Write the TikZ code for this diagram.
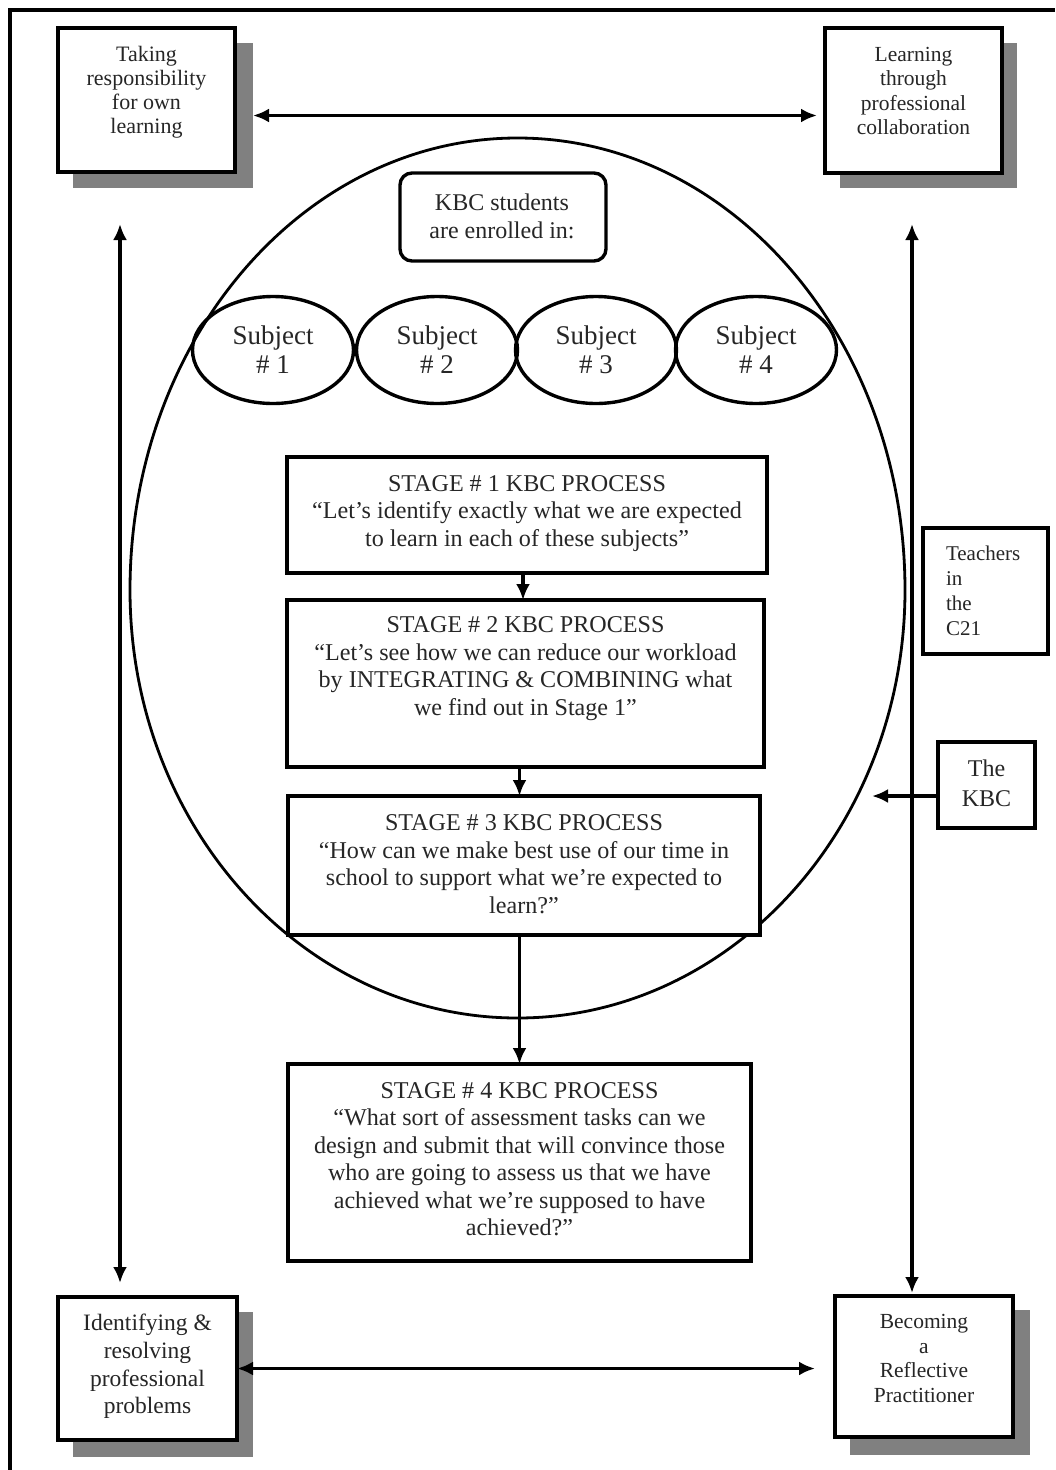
\documentclass[tikz,border=0pt]{standalone}
\usepackage{fontspec}
\setmainfont{Liberation Serif}
\usetikzlibrary{shapes.geometric,arrows.meta,calc}
\begin{document}
\begin{tikzpicture}[x=1pt,y=-1pt,
  line width=3.4pt,
  every node/.style={text=black!85},
  box/.style={draw=black, fill=white, inner sep=0pt, outer sep=0pt, rectangle},
  shadowbox/.style={fill=black!50, draw=none, inner sep=0pt, outer sep=0pt, rectangle},
  txt/.style={inner sep=0pt, outer sep=0pt, align=center},
  subj/.style={draw=black, ellipse, inner sep=0pt, outer sep=0pt, minimum width=161pt, minimum height=107pt},
  arr/.style={-{Latex[length=16pt,width=14pt]}},
  dbl/.style={{Latex[length=16pt,width=14pt]}-{Latex[length=16pt,width=14pt]}},
  fA/.style={font=\fontsize{22pt}{24pt}\selectfont},
  fB/.style={font=\fontsize{23.5pt}{27.6pt}\selectfont},
  fC/.style={font=\fontsize{21.5pt}{24.5pt}\selectfont},
  fG/.style={font=\fontsize{24.1pt}{27.5pt}\selectfont},
  fS/.style={font=\fontsize{27pt}{29pt}\selectfont},
  fK/.style={font=\fontsize{24pt}{28pt}\selectfont},
]
\useasboundingbox (0,0) rectangle (1055,1470);
\fill[white] (0,0) rectangle (1055,1470);

% outer frame
\draw (10,1470) -- (10,10) -- (1055,10);

% big oval (upper half slightly taller than lower half; y axis points down)
\coordinate (bigc) at (517.5,590);
\draw[line width=2.8pt] (130,590) arc[start angle=180, end angle=0, x radius=387.5, y radius=428]
  arc[start angle=0, end angle=-180, x radius=387.5, y radius=452] -- cycle;

% corner boxes with shadows
\node[shadowbox, minimum width=180pt, minimum height=145pt] (tls) at (163,115.5) {};
\node[box, minimum width=177pt, minimum height=144pt] (tl) at (146.5,100) {};
\node[txt, fA] (tlt) at (146.5,92) {Taking\\responsibility\\for own\\learning};

\node[shadowbox, minimum width=177pt, minimum height=145pt] (trs) at (928.5,115.5) {};
\node[box, minimum width=177pt, minimum height=145pt] (tr) at (913.5,100.5) {};
\node[txt, fC] (trt) at (913.5,91) {Learning\\through\\professional\\collaboration};

\node[shadowbox, minimum width=180pt, minimum height=145pt] (bls) at (163,1384.5) {};
\node[box, minimum width=179pt, minimum height=143pt] (bl) at (147.5,1368.5) {};
\node[txt, fB] (blt) at (147.5,1366.5) {Identifying \&\\resolving\\professional\\problems};

\node[shadowbox, minimum width=180pt, minimum height=145pt] (brs) at (940,1382.5) {};
\node[box, minimum width=178pt, minimum height=141pt] (br) at (924,1366.5) {};
\node[txt, fC] (brt) at (924,1358.5) {Becoming\\a\\Reflective\\Practitioner};

% horizontal and vertical double arrows
\draw[dbl] (tls.east) -- ($(tr.west |- tls.east)+(-8,0)$);
\draw[dbl] (bl.east) -- ($(br.west |- bl.east)+(-20,0)$);
\coordinate (lvtop) at (120,224);
\coordinate (lvbot) at (120,1283);
\draw[dbl] (lvtop) -- (lvbot);
\coordinate (rvtop) at (912,224);
\coordinate (rvbot) at (912,1293);
\draw[dbl] (rvtop) -- (rvbot);

% KBC students
\node[box, rounded corners=12pt, minimum width=206pt, minimum height=88pt] (kbcs) at (503,217) {};
\node[txt, fK] (kbcst) at (502,216.5) {KBC students\\are enrolled in:};

% subjects
\node[subj, fS, align=center] (sub1) at (273,350) {Subject\\\# 1};
\node[subj, fS, align=center] (sub2) at (437,350) {Subject\\\# 2};
\node[subj, fS, align=center] (sub3) at (596,350) {Subject\\\# 3};
\node[subj, fS, align=center] (sub4) at (756,350) {Subject\\\# 4};

% stages
\node[box, minimum width=480pt, minimum height=116pt] (s1) at (527,515) {};
\node[txt, fG] (s1t) at (527,513.5) {STAGE \# 1 KBC PROCESS\\“Let’s identify exactly what we are expected\\to learn in each of these subjects”};

\node[box, minimum width=477pt, minimum height=167pt] (s2) at (525.5,683.5) {};
\node[txt, fG] (s2t) at (525.5,668.5) {STAGE \# 2 KBC PROCESS\\“Let’s see how we can reduce our workload\\by INTEGRATING \& COMBINING what\\we find out in Stage 1”};

\node[box, minimum width=472pt, minimum height=139pt] (s3) at (524,865.5) {};
\node[txt, fG] (s3t) at (524,864) {STAGE \# 3 KBC PROCESS\\“How can we make best use of our time in\\school to support what we’re expected to\\learn?”};

\node[box, minimum width=463pt, minimum height=197pt] (s4) at (519.5,1162.5) {};
\node[txt, fG] (s4t) at (519.5,1159) {STAGE \# 4 KBC PROCESS\\“What sort of assessment tasks can we\\design and submit that will convince those\\who are going to assess us that we have\\achieved what we’re supposed to have\\achieved?”};

\coordinate (a12) at ($(s1.south)+(-4,0)$);
\draw[arr] (a12) -- (a12 |- s2.north);
\draw[arr] (s2.south -| s4.north) -- (s3.north -| s4.north);
\draw[arr] (s3.south -| s4.north) -- (s4.north);

% right side boxes
\node[box, minimum width=125pt, minimum height=126pt] (tch) at (985.5,591) {};
\node[txt, align=left, anchor=west, font=\fontsize{21pt}{25pt}\selectfont] (tcht) at (946,591) {Teachers\\in\\the\\C21};

\node[box, minimum width=97pt, minimum height=86pt] (kbc) at (986.5,785) {};
\node[txt, align=center, font=\fontsize{24pt}{30pt}\selectfont] (kbct) at (986.5,783) {The\\KBC};
\coordinate (kbctip) at (872,796);
\draw[arr] (kbc.west |- kbctip) -- (kbctip);
\end{tikzpicture}
\end{document}
